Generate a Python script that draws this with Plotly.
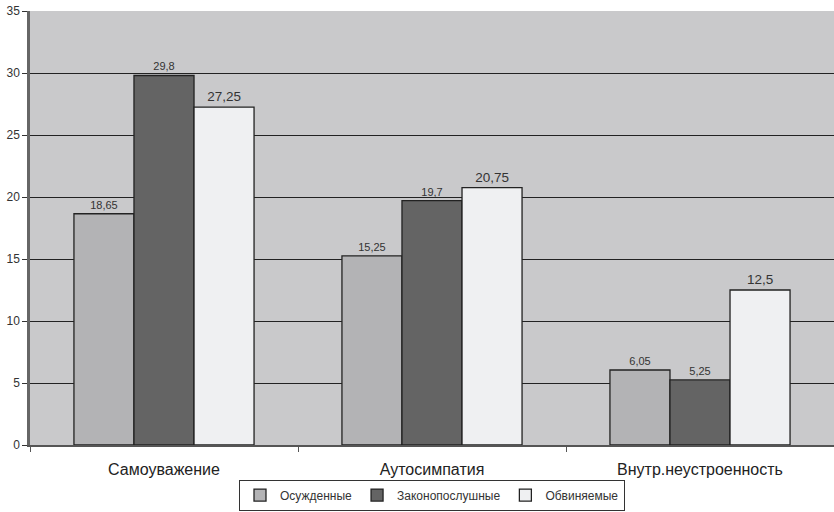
import plotly.graph_objects as go

categories = ["Самоуважение", "Аутосимпатия", "Внутр.неустроенность"]
series_names = ["Осужденные", "Законопослушные", "Обвиняемые"]
osuzhdennye = [18.65, 15.25, 6.05]
zakonoposlushnye = [29.8, 19.7, 5.25]
obvinyaemye = [27.25, 20.75, 12.5]
y_ticks = [0, 5, 10, 15, 20, 25, 30, 35]

colors = ["#b3b3b5", "#646464", "#eff0f2"]
label_sizes = [11, 11, 13.5]

fig = go.Figure()
for name, vals, col, fs in zip(series_names, [osuzhdennye, zakonoposlushnye, obvinyaemye], colors, label_sizes):
    fig.add_trace(go.Bar(
        x=categories, y=vals, name=name,
        marker=dict(color=col, line=dict(color="#222222", width=1.3)),
        text=[str(v).replace(".", ",") for v in vals],
        textposition="outside",
        textfont=dict(size=fs, color="#333333", family="Liberation Sans, Arial"),
        cliponaxis=False,
    ))

fig.update_layout(
    width=834, height=512,
    margin=dict(l=30, r=0, t=11, b=67),
    barmode="group", bargap=0.328, bargroupgap=0,
    plot_bgcolor="#c9c9cb", paper_bgcolor="white",
    font=dict(family="Liberation Sans, Arial", color="#333333"),
    showlegend=True,
    legend=dict(orientation="h", x=0.5, xanchor="center", y=-0.151, yanchor="bottom",
                bordercolor="#333333", borderwidth=1, font=dict(size=12, color="#333333"),
                itemwidth=30, tracegroupgap=0, itemclick=False),
    xaxis=dict(showline=True, linecolor="#555555", linewidth=1.5, automargin=False,
               ticks="outside", tickson="boundaries", ticklen=5, tickcolor="#555555",
               ticklabelstandoff=9,
               tickfont=dict(size=16, color="#222222"), showgrid=False),
    yaxis=dict(range=[0, 35], tickvals=y_ticks, showgrid=True, gridcolor="#222222", gridwidth=1,
               showline=True, linecolor="#666666", linewidth=2.5, ticks="outside", ticklen=5,
               automargin=False,
               tickcolor="#333333", tickfont=dict(size=12, color="#333333"), zeroline=False),
)

fig.write_html("out.html", config={"displayModeBar": False},
               post_script="document.body.style.margin='0';document.body.style.overflow='hidden';")
